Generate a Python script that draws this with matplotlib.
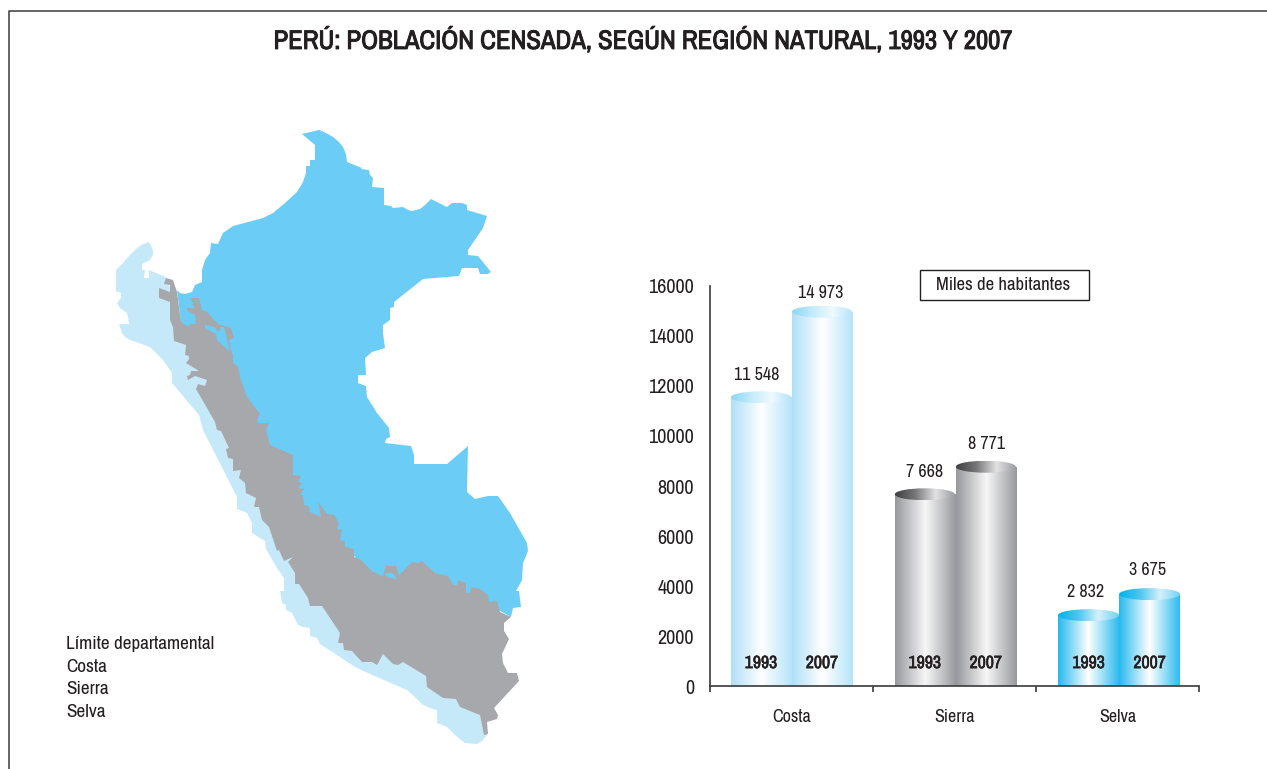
import numpy as np
import matplotlib
matplotlib.use('Agg')
import matplotlib.pyplot as plt
import matplotlib.patheffects as pe
from matplotlib.colors import LinearSegmentedColormap
from matplotlib.patches import Ellipse, Polygon, Rectangle

plt.rcParams['font.family'] = ['Archivo Narrow', 'Roboto Condensed', 'Liberation Sans', 'DejaVu Sans']

regions = ['Costa', 'Sierra', 'Selva']
years = ['1993', '2007']
costa_values = [11548, 14973]
sierra_values = [7668, 8771]
selva_values = [2832, 3675]
y_ticks = [0, 2000, 4000, 6000, 8000, 10000, 12000, 14000, 16000]
legend_labels = ['Límite departamental', 'Costa', 'Sierra', 'Selva']

# map outlines (pixels)
costa_shape = [(149, 242), (153, 250), (153, 255), (150, 260), (142, 264), (142, 270), (145, 270), (144, 278), (149, 278),
               (149, 270), (166, 277), (190, 340), (240, 440), (300, 540), (400, 640), (480, 715), (487, 735),
               (482, 741), (477, 744), (465, 743), (456, 736), (447, 727), (437, 723), (437, 710), (430, 708), (423, 705), (415, 697),
               (407, 690), (370, 674), (355, 667), (340, 657), (320, 644), (317, 638), (310, 636), (310, 628), (303, 627), (298, 625),
               (295, 619), (292, 613), (286, 610),
               (286, 605), (282, 603), (280, 591), (284, 591), (284, 578), (277, 568), (266, 549), (265, 541),
               (252, 533), (252, 523), (247, 513), (237, 509), (237, 497), (203, 430), (199, 415), (172, 383),
               (172, 373), (163, 360), (150, 347), (130, 340), (125, 337), (122, 333), (119, 324), (129, 324), (128, 317), (127, 313),
               (120, 308), (117, 303), (121, 298), (121, 293), (116, 291), (116, 270), (123, 263), (130, 255), (137, 248), (143, 244)]
selva_shape = [(302, 134), (319, 130), (326, 133), (333, 137), (339, 142), (343, 147), (346, 154), (347, 162), (362, 168), (361, 169), (369, 170),
               (370, 175), (373, 178), (372, 187), (384, 188), (384, 205), (391, 206), (393, 208), (403, 207),
               (408, 210), (412, 211), (420, 209), (425, 205), (431, 199), (447, 207), (452, 203), (462, 203), (467, 205), (467, 210),
               (487, 216), (483, 228), (468, 250), (468, 255), (478, 256), (491, 272), (488, 274), (480, 274),
               (478, 268), (462, 268), (459, 276), (423, 279), (394, 302), (394, 307), (390, 308), (390, 320),
               (383, 325), (383, 333), (385, 348), (372, 352), (365, 358), (366, 375), (358, 375), (358, 383),
               (366, 386), (367, 397), (377, 413), (389, 428), (390, 437), (386, 439), (385, 443), (411, 446),
               (414, 455), (414, 464), (447, 464), (468, 446), (467, 492), (475, 499), (488, 496), (498, 496),
               (510, 513), (527, 543), (528, 551), (523, 563), (522, 580), (516, 591), (519, 591), (521, 607),
               (513, 608), (511, 617), (493, 607), (393, 590), (290, 500), (240, 420), (210, 360), (185, 335),
               (181, 322), (177, 290), (180, 293), (185, 294), (192, 292), (195, 285), (202, 282), (202, 270),
               (205, 260), (210, 253), (211, 243), (218, 244), (223, 233), (233, 226), (248, 222), (263, 218), (273, 213),
               (285, 203), (297, 192), (303, 182), (306, 173), (306, 166), (310, 166), (310, 160), (315, 160), (315, 145)]
sierra_shape = [(166, 278), (164, 284), (170, 285), (170, 292), (159, 288), (159, 298), (170, 302), (170, 320),
                (173, 327), (174, 341), (186, 345), (185, 355), (189, 356), (189, 359), (186, 363), (199, 371),
                (191, 371), (190, 375), (187, 376), (188, 380), (195, 376), (207, 380), (205, 386), (198, 384),
                (196, 389), (207, 408), (215, 422), (217, 430), (221, 431), (229, 448), (226, 449), (228, 458),
                (233, 459), (233, 471), (241, 470), (239, 478), (245, 483), (246, 493), (256, 498), (254, 507),
                (259, 507), (262, 520), (269, 527), (277, 551), (279, 550), (284, 561), (293, 557), (288, 562),
                (295, 573), (295, 584), (299, 584), (308, 598), (310, 606), (322, 606), (340, 633), (338, 643),
                (343, 643), (344, 650), (352, 651), (362, 662), (372, 662), (377, 665), (383, 654), (393, 664),
                (398, 665), (403, 662), (426, 676), (427, 687), (443, 698), (456, 699), (460, 707), (480, 715),
                (484, 735), (488, 734), (487, 722), (497, 719), (498, 715), (494, 708), (519, 681), (517, 673),
                (508, 673), (503, 663), (502, 654), (509, 639), (504, 631), (504, 623), (511, 617), (500, 612),
                (497, 601), (489, 602), (488, 595), (480, 589), (471, 587), (470, 593), (466, 593), (466, 583),
                (458, 580), (457, 585), (453, 585), (448, 576), (435, 573), (422, 561), (418, 563), (412, 562),
                (399, 575), (396, 566), (386, 566), (383, 576), (373, 572), (360, 559), (354, 557), (354, 549),
                (345, 547), (345, 541), (340, 540), (342, 530), (337, 529), (339, 523), (334, 515), (327, 514),
                (318, 502), (321, 517), (310, 512), (309, 506), (304, 505), (303, 495), (300, 495), (304, 489),
                (298, 488), (302, 483), (298, 482), (301, 476), (293, 475), (293, 455), (270, 445), (266, 430),
                (269, 423), (258, 423), (257, 419), (260, 414), (247, 397), (240, 377), (238, 366), (233, 363),
                (233, 355), (231, 350), (229, 340), (234, 338), (231, 328), (218, 324), (207, 312), (202, 310),
                (199, 298), (191, 298), (194, 308), (187, 308), (187, 311), (195, 315), (196, 324), (190, 324),
                (189, 327), (181, 322), (177, 292), (173, 280)]
selva_patch_a = [(205, 325), (215, 327), (217, 331), (220, 331), (220, 327), (224, 327), (230, 352), (217, 340),
                 (216, 334), (205, 328)]
selva_patch_b = [(386, 573), (393, 573), (397, 579), (390, 578), (385, 575)]

fig = plt.figure(figsize=(12.67, 7.69), dpi=100)

# whole-figure axes in pixels for frame, title and map
bg = fig.add_axes([0, 0, 1, 1])
bg.set_xlim(0, 1267)
bg.set_ylim(769, 0)
bg.axis('off')
bg.plot([9, 9, 1267], [769, 11, 11], color='#4a4a4c', lw=1.2)
# the narrow font has no bold cut here, so thicken it with a stroke
bg.text(643.5, 40, 'PERÚ: POBLACIÓN CENSADA, SEGÚN REGIÓN NATURAL, 1993 Y 2007', ha='center', va='center',
        fontsize=19.2, color='#231f20',
        path_effects=[pe.withStroke(linewidth=0.7, foreground='#231f20')])

bg.add_patch(Polygon(costa_shape, fc='#c6e9fa', ec='none'))
bg.add_patch(Polygon(selva_shape, fc='#6bcdf6', ec='none'))
bg.add_patch(Polygon(sierra_shape, fc='#a7a8ac', ec='none'))
bg.add_patch(Polygon(selva_patch_a, fc='#6bcdf6', ec='none'))
bg.add_patch(Polygon(selva_patch_b, fc='#6bcdf6', ec='none'))

for label, y in zip(legend_labels, [644, 667, 689, 712]):
    bg.text(66, y, label, ha='left', va='center', fontsize=13.8, color='#231f20')

bg.add_patch(Rectangle((920, 270), 169, 30, fc='white', ec='#231f20', lw=1))
bg.text(1003.5, 285, 'Miles de habitantes', ha='center', va='center', fontsize=13.5, color='#231f20')

# bar chart
ax = fig.add_axes([710 / 1267, (769 - 686) / 769, 489 / 1267, 400 / 769])
ax.patch.set_alpha(0)
ax.set_xlim(0, 3)
ax.set_ylim(0, 16000)
for side in ['top', 'right']:
    ax.spines[side].set_visible(False)
for side in ['left', 'bottom']:
    ax.spines[side].set_color('#3a3a3c')
    ax.spines[side].set_linewidth(1.2)

ax.set_yticks(y_ticks)
ax.set_yticklabels([str(t) for t in y_ticks], fontsize=14.5, color='#231f20')
ax.tick_params(axis='y', length=0, pad=11.5)
ax.set_xticks([0, 1, 2, 3])
ax.set_xticklabels([])
ax.tick_params(axis='x', length=4.5, width=1.2, color='#3a3a3c')
ax.set_xticks([0.5, 1.5, 2.5], minor=True)
ax.set_xticklabels(regions, minor=True, fontsize=13, color='#231f20')
ax.tick_params(axis='x', which='minor', length=0, pad=16.5)


def cmap(*colors):
    return LinearSegmentedColormap.from_list('c', colors)


groups = [
    (0.5, costa_values, 0.003, cmap('#aee0f8', '#ffffff', '#b5e4f9'),
     cmap('#8cd6f6', '#c4ebfb', '#eefafe', '#b5e4f9')),
    (1.505, sierra_values, 0.003, cmap('#97989c', '#f7f7f7', '#98999d'),
     cmap('#3f3f41', '#77777a', '#e2e2e3', '#98999d')),
    (2.51, selva_values, 0.0, cmap('#25b9ee', '#ffffff', '#2dbcee'),
     cmap('#00b2ea', '#4cc6f0', '#d5f1fb', '#6fd0f3')),
]
bar_w = 61 / 163
cap_h = 12 / 400 * 16000
grad = np.linspace(0, 1, 256)[None, :]
# nudges of the value labels, in pixels
label_dx = [[-4, -1.5], [0, 1], [-3, -2]]
label_dy = [[22.5, 18.5], [22.5, 22.5], [23, 24]]

for (center, values, gap, body_cmap, cap_cmap), dxs, dys in zip(groups, label_dx, label_dy):
    for i, value in enumerate(values):
        x = center + (i - 0.5) * bar_w
        bar = ax.bar(x, value, width=bar_w - gap * 2, color='none', zorder=2)[0]
        x0, x1 = x - bar.get_width() / 2, x + bar.get_width() / 2
        body = ax.imshow(grad, extent=(x0, x1, 0, value), aspect='auto', cmap=body_cmap, zorder=2)
        body.set_clip_path(bar)
        top = Ellipse((x, value), x1 - x0, cap_h, fc='none', ec='none', zorder=3)
        ax.add_patch(top)
        cap = ax.imshow(grad, extent=(x0, x1, value - cap_h / 2, value + cap_h / 2), aspect='auto',
                        cmap=cap_cmap, zorder=3)
        cap.set_clip_path(top)
        ax.annotate(f'{value:,}'.replace(',', ' '), (x, value), xytext=(dxs[i] * 0.72, dys[i] * 0.72),
                    textcoords='offset points', ha='center', va='center', fontsize=13, color='#231f20',
                    annotation_clip=False)
        ax.annotate(years[i], (x, 0), xytext=(0, 16.5), textcoords='offset points', ha='center', va='center',
                    fontsize=12.8, color='#231f20', zorder=5,
                    path_effects=[pe.withStroke(linewidth=0.45, foreground='#231f20')])

ax.set_xlim(0, 3)
ax.set_ylim(0, 16000)

fig.savefig('out.png', dpi=100)
